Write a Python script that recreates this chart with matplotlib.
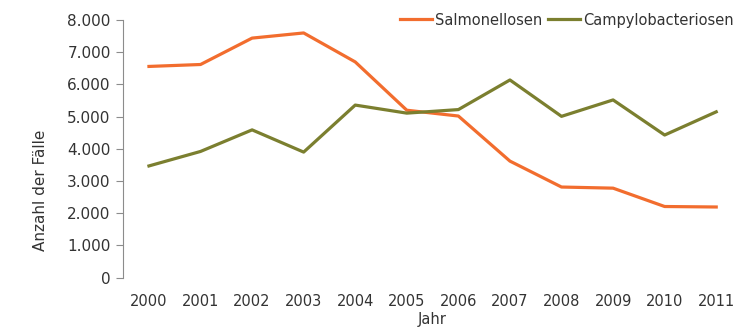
import matplotlib
matplotlib.use('Agg')
import matplotlib.pyplot as plt
from matplotlib.ticker import FuncFormatter

years = ['2000', '2001', '2002', '2003', '2004', '2005', '2006', '2007', '2008', '2009', '2010', '2011']
salmonellosen = [6560, 6620, 7440, 7600, 6700, 5200, 5020, 3620, 2815, 2780, 2210, 2195]
campylo = [3470, 3920, 4590, 3900, 5360, 5110, 5220, 6140, 5010, 5520, 4430, 5150]

plt.rcParams['font.family'] = ['DejaVu Sans']
txt = '#333333'

fig = plt.figure(figsize=(7.42, 3.29), dpi=100)
ax = fig.add_axes([0.166, 0.156, 0.834, 0.783])

x = range(len(years))
ax.plot(x, salmonellosen, color='#F26D2E', lw=2.3, label='Salmonellosen')
ax.plot(x, campylo, color='#7B7F2F', lw=2.3, label='Campylobacteriosen')

ax.set_xlim(-0.5, len(years) - 0.5)
ax.set_ylim(0, 8000)
ax.set_yticks(range(0, 8001, 1000))
ax.yaxis.set_major_formatter(FuncFormatter(lambda v, p: '{:,.0f}'.format(v).replace(',', '.')))
ax.set_xticks(list(x))
ax.set_xticklabels(years)

for s in ['top', 'right', 'bottom']:
    ax.spines[s].set_visible(False)
ax.spines['left'].set_color('#8c8c8c')
ax.tick_params(axis='y', length=5, color='#8c8c8c', labelsize=11, labelcolor=txt, pad=4)
ax.tick_params(axis='x', length=0, labelsize=10.5, labelcolor=txt, pad=12)

ax.set_ylabel('Anzahl der Fälle', fontsize=11, color=txt)
ax.yaxis.set_label_coords(-0.122, 0.34)
ax.set_xlabel('Jahr', fontsize=10.5, color=txt, labelpad=2)

ax.legend(loc='upper right', bbox_to_anchor=(1.008, 1.08), ncol=2, frameon=False,
          fontsize=10.5, handlelength=2.2, handletextpad=0.2, columnspacing=0.4,
          labelcolor=txt)

fig.savefig('out.png', dpi=100)
